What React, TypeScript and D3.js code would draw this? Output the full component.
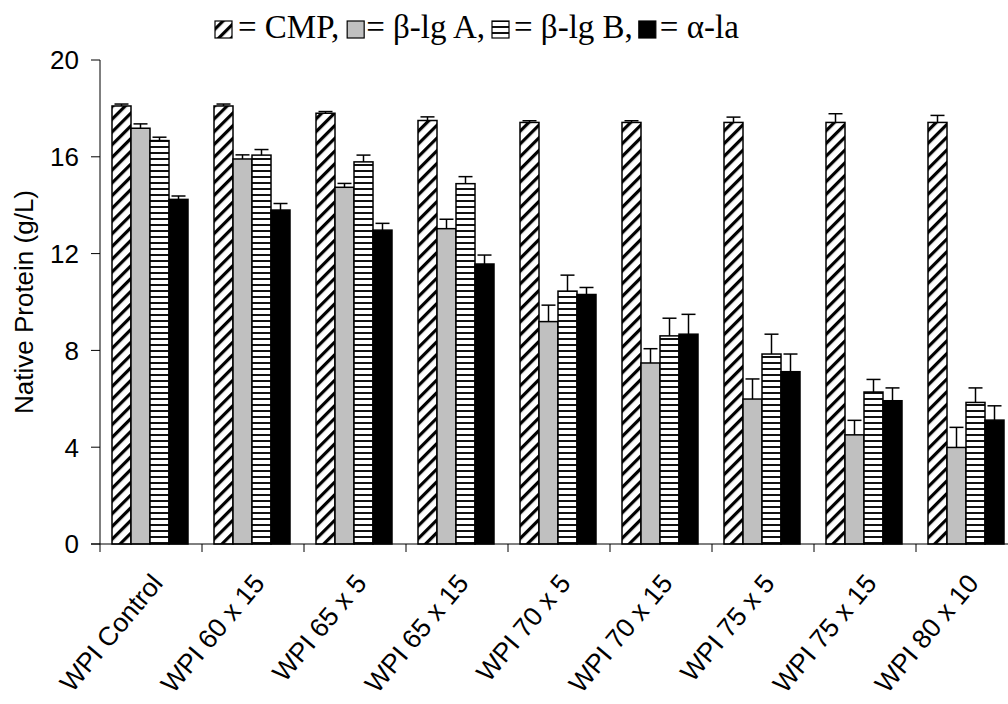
import * as d3 from "d3"
import { useEffect, useRef } from "react"

// Data
const categories = [
  "WPI Control",
  "WPI 60 x 15",
  "WPI 65 x 5",
  "WPI 65 x 15",
  "WPI 70 x 5",
  "WPI 70 x 15",
  "WPI 75 x 5",
  "WPI 75 x 15",
  "WPI 80 x 10",
]
const seriesNames = ["CMP", "β-lg A", "β-lg B", "α-la"]
const cmp = [18.1, 18.1, 17.8, 17.5, 17.42, 17.42, 17.42, 17.42, 17.42]
const cmpErr = [0.08, 0.08, 0.07, 0.15, 0.07, 0.07, 0.22, 0.36, 0.29]
const lgA = [17.18, 15.91, 14.74, 13.03, 9.19, 7.48, 5.99, 4.51, 3.99]
const lgAErr = [0.18, 0.17, 0.16, 0.39, 0.68, 0.59, 0.83, 0.6, 0.83]
const lgB = [16.67, 16.07, 15.79, 14.89, 10.45, 8.6, 7.85, 6.28, 5.85]
const lgBErr = [0.14, 0.23, 0.28, 0.29, 0.66, 0.73, 0.82, 0.52, 0.6]
const ala = [14.24, 13.8, 12.97, 11.57, 10.31, 8.67, 7.12, 5.92, 5.12]
const alaErr = [0.14, 0.27, 0.28, 0.37, 0.29, 0.82, 0.73, 0.53, 0.59]
const yTicks = [0, 4, 8, 12, 16, 20]
const legendText = ["= CMP,", "= β-lg A,", "= β-lg B,", "= α-la"]

const values = [cmp, lgA, lgB, ala]
const errors = [cmpErr, lgAErr, lgBErr, alaErr]
const fills = ["url(#diag)", "#c0c0c0", "url(#hstripe)", "#000"]

const App = () => {
  const svgRef = useRef<SVGSVGElement | null>(null)

  useEffect(() => {
    if (!svgRef.current) return
    const root = d3.select(svgRef.current)
    root.selectAll("*").remove()

    const sans = "'Liberation Sans', Arial, sans-serif"
    const serif = "'Liberation Serif', 'Times New Roman', serif"

    // Patterns
    const defs = root.append("defs")
    const diag = defs
      .append("pattern")
      .attr("id", "diag")
      .attr("patternUnits", "userSpaceOnUse")
      .attr("width", 9)
      .attr("height", 9)
      .attr("patternTransform", "rotate(45)")
    diag.append("rect").attr("width", 9).attr("height", 9).attr("fill", "#fff")
    diag.append("rect").attr("width", 3.2).attr("height", 9).attr("fill", "#000")

    const hs = defs
      .append("pattern")
      .attr("id", "hstripe")
      .attr("patternUnits", "userSpaceOnUse")
      .attr("width", 6)
      .attr("height", 6)
    hs.append("rect").attr("width", 6).attr("height", 6).attr("fill", "#fff")
    hs.append("rect").attr("y", 2).attr("width", 6).attr("height", 2).attr("fill", "#111")

    // Scales
    const x0 = d3
      .scaleBand()
      .domain(categories)
      .range([100, 100 + categories.length * 102])
      .padding(0)
    const x1 = d3.scaleBand().domain(seriesNames).range([12, 88]).padding(0)
    const y = d3.scaleLinear().domain([0, 20]).range([544, 60])

    // Y axis
    const yAxis = root.append("g").attr("transform", "translate(100,0)")
    yAxis
      .append("line")
      .attr("y1", y(20))
      .attr("y2", y(0))
      .attr("stroke", "#000")
    yAxis
      .selectAll(".yt")
      .data(yTicks)
      .enter()
      .append("line")
      .attr("x1", -9)
      .attr("x2", 0)
      .attr("y1", d => y(d))
      .attr("y2", d => y(d))
      .attr("stroke", "#000")
    yAxis
      .selectAll(".yl")
      .data(yTicks)
      .enter()
      .append("text")
      .attr("x", -21)
      .attr("y", d => y(d))
      .attr("dy", "0.36em")
      .attr("text-anchor", "end")
      .style("font-family", sans)
      .style("font-size", "26px")
      .text(d => d)

    root
      .append("text")
      .attr("transform", `translate(33,${(y(0) + y(20)) / 2}) rotate(-90)`)
      .attr("text-anchor", "middle")
      .style("font-family", sans)
      .style("font-size", "26px")
      .text("Native Protein (g/L)")

    // Bars
    seriesNames.forEach((s, si) => {
      const g = root.append("g")
      g.selectAll("rect")
        .data(values[si])
        .enter()
        .append("rect")
        .attr("x", (_d, i) => (x0(categories[i]) || 0) + (x1(s) || 0))
        .attr("y", d => y(d))
        .attr("width", x1.bandwidth())
        .attr("height", d => y(0) - y(d))
        .attr("fill", fills[si])
        .attr("stroke", "#000")
        .attr("stroke-width", 1.5)

      // error bars (upper only)
      const cx = (i: number) =>
        (x0(categories[i]) || 0) + (x1(s) || 0) + x1.bandwidth() / 2
      g.selectAll(".ev")
        .data(values[si])
        .enter()
        .append("line")
        .attr("x1", (_d, i) => cx(i))
        .attr("x2", (_d, i) => cx(i))
        .attr("y1", d => y(d))
        .attr("y2", (d, i) => y(d + errors[si][i]))
        .attr("stroke", "#000")
        .attr("stroke-width", 1.5)
      g.selectAll(".ec")
        .data(values[si])
        .enter()
        .append("line")
        .attr("x1", (_d, i) => cx(i) - 7)
        .attr("x2", (_d, i) => cx(i) + 7)
        .attr("y1", (d, i) => y(d + errors[si][i]))
        .attr("y2", (d, i) => y(d + errors[si][i]))
        .attr("stroke", "#000")
        .attr("stroke-width", 1.5)
    })

    // X axis
    const xAxis = root.append("g")
    xAxis
      .append("line")
      .attr("x1", 91)
      .attr("x2", 1018)
      .attr("y1", y(0))
      .attr("y2", y(0))
      .attr("stroke", "#000")
    xAxis
      .selectAll(".xt")
      .data(categories)
      .enter()
      .append("line")
      .attr("x1", d => x0(d) || 0)
      .attr("x2", d => x0(d) || 0)
      .attr("y1", y(0))
      .attr("y2", y(0) + 8)
      .attr("stroke", "#000")
    xAxis
      .selectAll(".xl")
      .data(categories)
      .enter()
      .append("text")
      .attr(
        "transform",
        d => `translate(${(x0(d) || 0) + x0.bandwidth() / 2 + 13},${y(0) + 40}) rotate(-50)`
      )
      .attr("text-anchor", "end")
      .style("font-family", sans)
      .style("font-size", "26.5px")
      .text(d => d)

    // Legend across the top
    const legend = root.append("g")
    const gapAfterSwatch = [6, 2, 5, 4]
    const gapAfterText = [8, 7, 6, 0]
    let lx = 215
    seriesNames.forEach((_s, si) => {
      legend
        .append("rect")
        .attr("x", lx)
        .attr("y", 21)
        .attr("width", 17)
        .attr("height", 17)
        .attr("fill", fills[si])
        .attr("stroke", "#000")
        .attr("stroke-width", 1.2)
      lx += 17 + gapAfterSwatch[si]
      const t = legend
        .append("text")
        .attr("x", lx)
        .attr("y", 38)
        .style("font-family", serif)
        .style("font-size", "33px")
        .text(legendText[si])
      const w = (t.node() as SVGTextElement).getComputedTextLength()
      lx += w + gapAfterText[si]
    })
  }, [])

  return (
    <div style={{ position: "absolute", left: 0, top: 0 }}>
      <svg
        ref={svgRef}
        width={1008}
        height={704}
        style={{ display: "block", background: "#fff" }}
      />
    </div>
  )
}

export default App
